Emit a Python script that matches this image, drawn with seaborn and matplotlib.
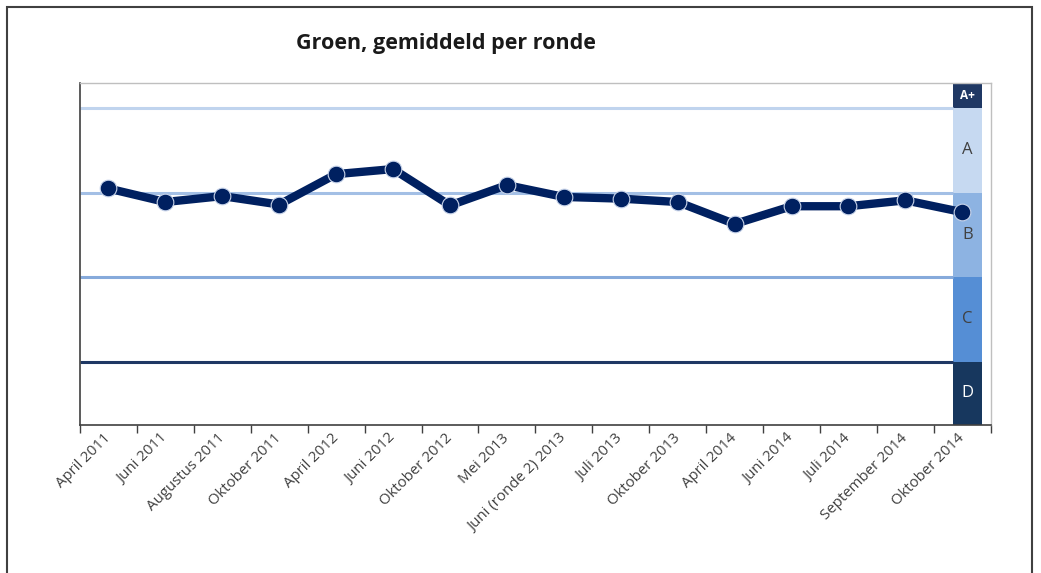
import matplotlib
matplotlib.use("Agg")
import matplotlib.pyplot as plt
import seaborn as sns
import numpy as np
from matplotlib.patches import Rectangle

# ------------------------------------------------------------
# Data
# ------------------------------------------------------------
rondes = ["April 2011", "Juni 2011", "Augustus 2011", "Oktober 2011",
          "April 2012", "Juni 2012", "Oktober 2012", "Mei 2013",
          "Juni (ronde 2) 2013", "Juli 2013", "Oktober 2013", "April 2014",
          "Juni 2014", "Juli 2014", "September 2014", "Oktober 2014"]
groen = [7.55, 7.39, 7.46, 7.36, 7.72, 7.78, 7.35, 7.59,
         7.45, 7.43, 7.39, 7.13, 7.34, 7.34, 7.41, 7.27]

grades = ["D", "C", "B", "A", "A+"]
grade_bounds = [4.75, 5.5, 6.5, 7.5, 8.5, 8.8]
grade_colors = ["#17375e", "#558ed5", "#8db3e2", "#c6d9f1", "#1f3864"]
grade_text = ["white", "#404040", "#404040", "#404040", "white"]
line_levels = [5.5, 6.5, 7.5, 8.5]
line_colors = ["#1f3864", "#86aadb", "#a3bfe5", "#c0d4ee"]

# ------------------------------------------------------------
# Plot
# ------------------------------------------------------------
sns.set_style("white")
plt.rcParams["font.family"] = ["Open Sans", "DejaVu Sans"]

fig = plt.figure(figsize=(10.41, 5.73), dpi=100)
ax = fig.add_axes([0.0768, 0.2583, 0.875, 0.597])

x = np.arange(len(rondes))
band_x, band_w = 15.085, 0.51

# grade bands at the right edge
for i, g in enumerate(grades):
    lo, hi = grade_bounds[i], grade_bounds[i + 1]
    ax.bar(band_x, hi - lo, bottom=lo, width=band_w, color=grade_colors[i],
           edgecolor="none", zorder=1)
    ax.text(band_x, (lo + hi) / 2, g, ha="center", va="center",
            color=grade_text[i], fontsize=8.5 if g == "A+" else 12,
            fontweight="bold" if g == "A+" else "normal", zorder=2)

# grade boundary lines
for lvl, c in zip(line_levels, line_colors):
    ax.hlines(lvl, -0.5, band_x - band_w / 2, color=c, lw=2.2, zorder=1)

sns.lineplot(x=x, y=groen, ax=ax, color="#002060", lw=6, marker="o",
             markersize=12, markeredgecolor="#c8d4ea", markeredgewidth=0.8,
             zorder=3)

ax.set_xlim(-0.5, 15.5)
ax.set_ylim(grade_bounds[0], grade_bounds[-1])
ax.set_yticks([])
ax.set_xticks(x)
ax.set_xticklabels(rondes, rotation=45, ha="right", va="center",
                   rotation_mode="anchor", fontsize=10.8, color="#404040")
ax.set_xticks(np.arange(-0.5, 16, 1), minor=True)
ax.tick_params(axis="x", which="major", length=0, pad=8)
ax.tick_params(axis="x", which="minor", length=6, width=1, color="#404040",
               direction="out", bottom=True)
ax.set_xlabel("")
ax.set_ylabel("")

for side in ["left", "bottom"]:
    ax.spines[side].set_color("#404040")
    ax.spines[side].set_linewidth(1.2)
for side in ["top", "right"]:
    ax.spines[side].set_color("#bfbfbf")
    ax.spines[side].set_linewidth(1)

fig.text(0.428, 0.924, "Groen, gemiddeld per ronde", ha="center", va="center",
         fontsize=15.5, fontweight="bold", color="#1a1a1a")

# outer frame of the chart
fig.patches.append(Rectangle((7 / 1041, -0.05), 1025 / 1041, 1.05 - 7 / 573,
                             transform=fig.transFigure, fill=False,
                             edgecolor="#404040", lw=1.5))

fig.savefig("out.png", dpi=100)
